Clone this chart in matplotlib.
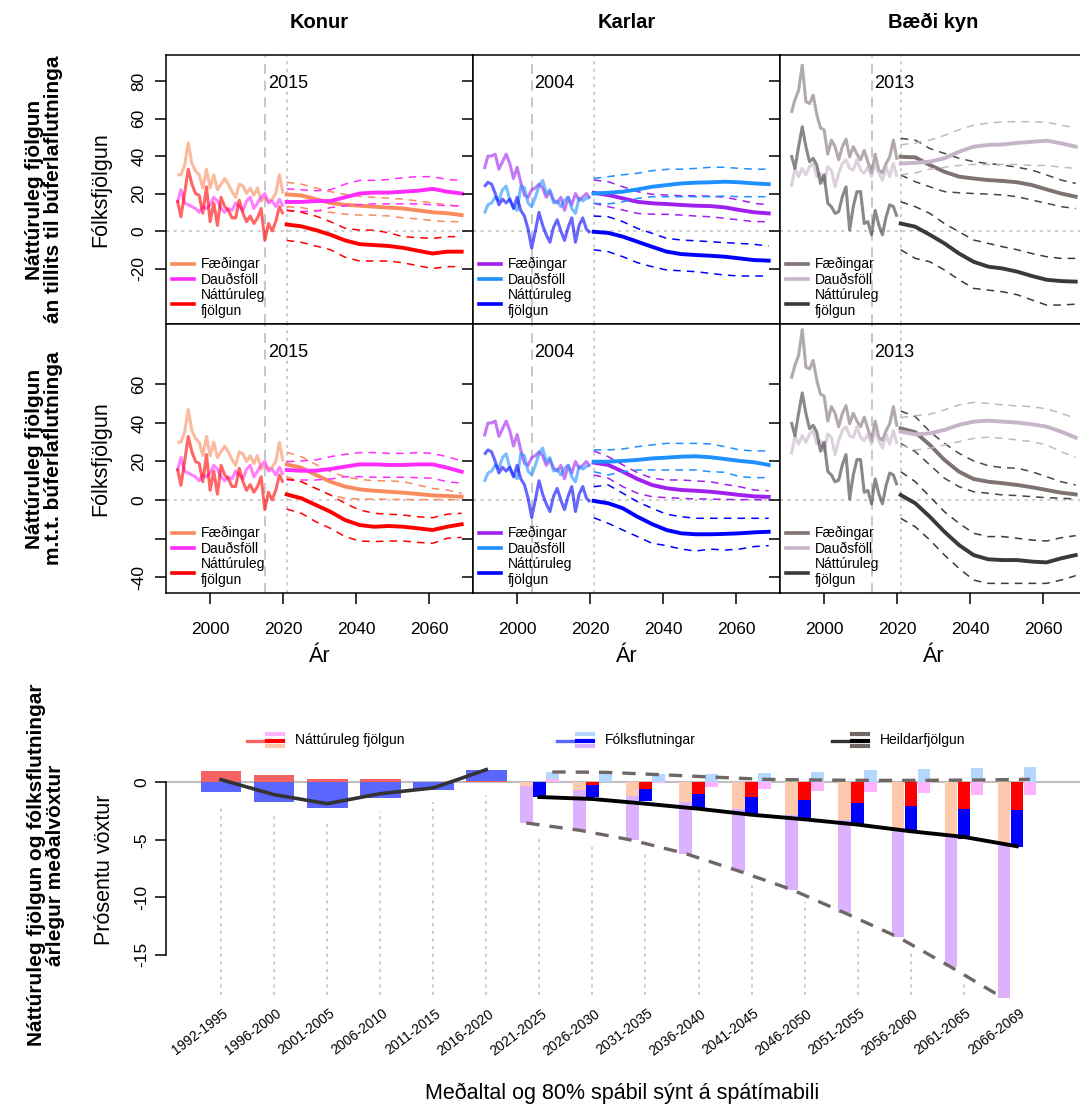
import numpy as np
import matplotlib
matplotlib.use("Agg")
import matplotlib.pyplot as plt
from matplotlib.lines import Line2D

plt.rcParams['font.family'] = ['Liberation Sans', 'DejaVu Sans']

# ------------------------------------------------------------------
# data: yearly history 1991-2020, projections every 4th year 2021-2069
# ------------------------------------------------------------------
hist_years = np.arange(1991, 2021)
proj_years = np.arange(2021, 2070, 4)

konur_births_hist = [30, 30, 35, 47, 36, 32, 30, 23, 33, 23, 30, 22, 25, 28, 25, 21,
                     18, 25, 24, 20, 23, 19, 23, 16, 18, 16, 17, 20, 30, 20]
konur_deaths_hist = [15, 22, 15, 14, 13, 12, 10, 13, 12, 14, 18, 16, 12, 10, 12, 11,
                     15, 13, 11, 16, 18, 12, 15, 18, 20, 15, 16, 13, 17, 13]
konur_nat_hist = [16.5, 7.6, 20, 33, 25, 20, 19, 9.5, 23.6, 5, 15, 3, 18, 13, 11, 7,
                  7, 16.5, 9.5, 5, 8, 4, 7, 12, -5, 4, 0, 5, 13, 9]

karlar_births_hist = [33, 40, 40, 41, 33, 37, 41, 36, 28, 34, 26, 19, 18, 22, 23, 25,
                      23, 18, 21, 16.5, 15, 18, 11, 18, 14, 20, 16.5, 18, 20, 17.5]
karlar_deaths_hist = [9.4, 14, 15, 18, 16.5, 22, 24, 16.5, 13, 11, 24, 23, 15, 13, 18, 24,
                      27, 20, 22, 15, 16, 13, 16.5, 18, 12, 9.4, 17.5, 16, 17.5, 18]
karlar_nat_hist = [23.6, 26, 25, 20, 14, 17, 15, 17, 12, 18, 11, 8, 1, -9, 0, 10,
                   3, -2, -6, 2, 6, 0, -5, 2, 7, -6, 3, 7, 1, -1]

baedi_births_hist = [63, 70, 75, 88.5, 69, 68, 72.5, 62, 55, 54, 41, 48.5, 45, 38, 45, 49,
                     39.6, 45, 41, 38, 43, 37, 31, 41, 32.5, 31, 36, 39.6, 48.5, 38]
baedi_deaths_hist = [23.6, 33.4, 29, 33.4, 30, 34.3, 36, 29, 30.8, 25.4, 34.3, 32.5, 23.6, 30.8, 36, 38,
                     33.4, 32.5, 38, 32.5, 30.8, 34.3, 29, 36, 30.8, 27, 34.3, 29, 36, 29]
baedi_nat_hist = [40.5, 33.4, 45, 55.6, 45, 37, 38.8, 35.2, 25.4, 30, 14.8, 13, 9.4, 10.3, 18.3, 23.6,
                  0.5, 13, 21, 21, 4, 5, -2, 11, 3.2, -2, 7.6, 14, 13, 7.6]

# projections: [mean, lower 10%, upper 90%]
# row 1: an tillits til buferlaflutninga
k1_births = [[19.5, 19, 17, 15, 14, 13.5, 13, 12.5, 12, 11, 10, 9.5, 8.5],
             [13, 12.5, 11, 10, 9, 8.5, 8.5, 8, 7, 6.5, 5.5, 5, 5],
             [26, 25, 23, 21, 19.5, 18.5, 18, 17.5, 17, 16, 15, 14, 13]]
k1_deaths = [[15.5, 15.5, 16, 16, 18, 20, 20.5, 20.5, 21, 21.5, 22.5, 21, 20],
             [11, 10.5, 10.5, 12.5, 13.5, 14, 14.5, 14.5, 14.5, 14.5, 14, 13.5, 13.5],
             [22.5, 22, 21.5, 22, 25, 27, 27, 27.5, 28.5, 29, 29, 27.5, 27]]
k1_nat = [[3.5, 2.5, 0.5, -2, -5, -7, -7.5, -8, -9, -10.5, -12, -11, -11],
          [-5, -6, -8, -10, -14, -16, -16, -16, -17, -18.5, -20, -19, -19],
          [11, 10, 8, 5, 1.5, 0.5, 0.5, -1, -3, -3.5, -4, -3, -3]]

ka1_births = [[20.4, 19.2, 17.4, 15.6, 14.8, 14.4, 13.9, 13.5, 13.3, 12.6, 11.2, 10, 9.4],
              [14.8, 13, 11.2, 9.4, 9, 8.9, 8.5, 8, 7.6, 6.8, 5.9, 5, 5],
              [27.2, 26.3, 23.6, 21, 19.6, 19.2, 18.8, 18.8, 18.6, 18, 16.5, 14.8, 13.9]]
ka1_deaths = [[20, 20.4, 21, 22.2, 23.6, 24.5, 25.4, 25.8, 26, 26.3, 26, 25.4, 25],
              [14.8, 14.4, 15.6, 17.4, 18.3, 18.3, 18.3, 18.3, 18.3, 18.7, 18.3, 18.3, 18.3],
              [28, 29, 30, 30.8, 32.2, 32.9, 33, 33.4, 34, 34, 33.4, 33, 33]]
ka1_nat = [[-0.4, -1, -3, -5.7, -8.4, -11, -12.3, -12.8, -13.2, -13.7, -14.6, -15.5, -15.8],
           [-10, -11, -13.7, -16.9, -19, -20.8, -21.2, -21.7, -22.6, -23.5, -24, -24, -24],
           [8, 7.6, 5, 1.4, -1.2, -3.9, -4.8, -5.2, -5.7, -6.2, -6.6, -7.1, -8]]

b1_births = [[39.6, 39.3, 35.2, 31.6, 29, 28, 27.2, 26.7, 26, 24.5, 22.2, 20, 18.3],
             [29.9, 26.3, 23.6, 21, 20.4, 20, 19.7, 19.2, 18.3, 16.5, 14.8, 13, 12],
             [49.4, 48.5, 44, 41.4, 38.8, 37, 36, 35.2, 34, 32.5, 29.9, 27.2, 25.4]]
b1_deaths = [[36, 36.4, 37, 38.8, 42.3, 45, 45.9, 46.2, 47, 47.6, 48.2, 46.8, 45],
             [30, 31, 33, 34, 35, 35.5, 35.5, 35.5, 35.5, 35, 35, 34, 33.5],
             [46, 47, 48.5, 51, 54, 56.5, 57.5, 58.3, 58.3, 58.3, 58, 56.5, 55]]
b1_nat = [[4, 2.3, -2, -6.6, -12, -16.4, -19, -20, -21.7, -24, -26, -26.7, -27],
          [-10, -14.6, -16.4, -20.8, -26, -30.6, -31.5, -32.4, -34, -36.8, -39.5, -39.5, -39],
          [15.6, 13, 9.4, 4, -0.4, -4.8, -6.6, -8.4, -10, -12, -13.7, -14.6, -14.6]]

# row 2: m.t.t. buferlaflutninga
k2_births = [[18.5, 16.8, 13, 9.5, 7, 5.5, 4.8, 4.3, 3.8, 3.1, 2.4, 2.1, 1.7],
             [12.1, 9.5, 6, 2.6, 0.9, 0.5, 0.5, 0.3, 0.3, 0.2, 0.2, 0.2, 0],
             [24.8, 22.5, 18.5, 14.7, 12.1, 10.7, 10, 9.9, 9.5, 7.8, 6, 5.2, 3.5]]
k2_deaths = [[15.6, 15.2, 15.2, 16.1, 17.3, 18.5, 18.5, 18.2, 18.2, 18.5, 18.5, 16.8, 14.7],
             [10.4, 10.4, 10.4, 10.9, 12.1, 12.1, 11.8, 11.8, 11.8, 11.6, 11.3, 9.5, 8.7],
             [19.9, 20.3, 20.8, 22.5, 23.7, 24.6, 24.6, 24.2, 24.2, 24.6, 24.2, 22.5, 20.3]]
k2_nat = [[2.9, 0.9, -2.6, -6.1, -10.4, -13, -13.9, -13.5, -13.9, -14.7, -15.6, -13.9, -12.6],
          [-4.7, -6.9, -11.3, -14.7, -19, -21.3, -21.6, -21.3, -21.3, -22, -22.5, -19.9, -19.4],
          [10.9, 9.5, 6, 2.6, -1.7, -5.2, -6.9, -7.4, -7.8, -8.7, -9.2, -7.4, -6.9]]

ka2_births = [[19.4, 18.2, 14.7, 10.9, 7.8, 6.1, 5.2, 4.8, 4.3, 3.5, 2.6, 1.9, 1.6],
              [13, 11.3, 6.9, 3.5, 1.7, 1.2, 0.9, 0.5, 0.5, 0.3, 0.2, 0.2, 0],
              [25.5, 22.5, 18.2, 14.2, 11.3, 10.4, 10.4, 9.9, 9.5, 8.1, 6.9, 5.2, 4.8]]
ka2_deaths = [[19.9, 19.9, 20.3, 20.8, 21.6, 22, 22.5, 22.7, 22.2, 21.3, 20.3, 19.6, 18.2],
              [14.7, 13, 14.7, 15.6, 15.6, 15.6, 15.6, 15.6, 14.7, 14.4, 12.1, 11.6, 11.6],
              [26, 26, 26.5, 27.7, 28.6, 29.4, 29.4, 29.4, 29.1, 27.7, 26, 25.5, 25.5]]
ka2_nat = [[-0.5, -1.7, -4.3, -8.7, -12.5, -15.6, -17.3, -17.8, -17.8, -17.6, -17.3, -16.8, -16.5],
           [-9.2, -12.1, -15.6, -19, -22.5, -23.7, -25.5, -26.5, -25.5, -26, -25.5, -24.2, -23.7],
           [6.9, 7.8, 3.5, -0.9, -4.3, -7.4, -8.7, -9.5, -9.5, -9.5, -9.5, -9.5, -9.5]]

b2_births = [[37.2, 35.2, 28.6, 20.8, 14.7, 10.9, 9.5, 8.7, 7.8, 6.6, 5.2, 3.8, 2.9],
             [29.4, 25.1, 18.2, 11.3, 6.9, 4.3, 3.5, 2.6, 2.3, 1.7, 1.2, 0.9, 0.5],
             [46.2, 43.3, 35.5, 29.4, 24.2, 20.3, 17.8, 16.8, 16.5, 14.7, 12.1, 9.5, 7.8]]
b2_deaths = [[35.5, 34.1, 34.6, 36.4, 39, 40.7, 41.2, 40.7, 40.2, 39.3, 38.1, 35.5, 32.4],
             [28.6, 26, 26.8, 28.6, 30.3, 32, 32.6, 32, 31.2, 30.3, 28.6, 25.1, 22],
             [42.8, 43.8, 44.5, 46.8, 49.4, 50.7, 50.2, 49.4, 48.8, 48.5, 47.3, 45, 42.4]]
b2_nat = [[2.6, -1.7, -8.7, -16.5, -23.4, -28.6, -30.8, -31.2, -31.2, -32, -32.4, -30.3, -28.6],
          [-9.5, -13.9, -20.8, -28.6, -35.5, -41.6, -43.3, -43.3, -43.3, -43.3, -43.3, -41.6, -39.3],
          [14.7, 9.5, 1.7, -6.1, -12.1, -17.3, -19, -19, -19.9, -20.8, -21.3, -19.6, -18.5]]

columns = ['Konur', 'Karlar', 'Bæði kyn']
ref_years = [2015, 2004, 2013]
legend_labels = ['Fæðingar', 'Dauðsföll', 'Náttúruleg\nfjölgun']

# bottom chart: average annual growth (%) by period
periods = ['1992-1995', '1996-2000', '2001-2005', '2006-2010', '2011-2015', '2016-2020',
           '2021-2025', '2026-2030', '2031-2035', '2036-2040', '2041-2045', '2046-2050',
           '2051-2055', '2056-2060', '2061-2065', '2066-2069']
nat_hist = [0.96, 0.67, 0.26, 0.32, 0.06, 0.1]
mig_hist = [-0.84, -1.71, -2.2, -1.36, -0.64, 0.95]
total_hist = [0.23, -1.07, -1.86, -0.99, -0.49, 1.1]

nat_lo = [-0.35, -0.7, -1.22, -1.71, -2.29, -2.81, -3.3, -4.03, -4.7, -5.19]
mig_lo = [-3.19, -3.47, -3.82, -4.49, -5.42, -6.52, -8.06, -9.42, -11.36, -13.61]
nat_mean = [0.0, -0.23, -0.6, -0.99, -1.28, -1.57, -1.77, -2.06, -2.29, -2.38]
mig_mean = [-1.28, -1.05, -1.05, -1.3, -1.53, -1.68, -1.97, -2.26, -2.61, -3.24]
nat_hi = [0.26, 0.05, -0.05, -0.38, -0.61, -0.76, -0.81, -0.96, -1.1, -1.1]
mig_hi = [0.66, 0.85, 0.72, 0.72, 0.84, 0.92, 1.07, 1.13, 1.27, 1.36]
total_mean = [-1.28, -1.45, -1.86, -2.3, -2.82, -3.22, -3.68, -4.26, -4.75, -5.56]
total_lo = [-3.54, -4.17, -5.04, -6.2, -7.71, -9.33, -11.36, -13.45, -16.06, -18.8]
total_hi = [0.9, 0.87, 0.67, 0.46, 0.26, 0.2, 0.17, 0.17, 0.2, 0.26]

# ------------------------------------------------------------------
# styles
# ------------------------------------------------------------------
col_colors = [['#F98B5E', '#FF2BFF', '#FF0000'],
              ['#A020F0', '#1E90FF', '#0000FF'],
              ['#7F7270', '#C6B4C8', '#3A3A3A']]
dash_colors = [['#F98B5E', '#FF2BFF', '#FF0000'],
               ['#A020F0', '#1E90FF', '#0000FF'],
               ['#4D4545', '#C6B4C8', '#3A3A3A']]
GREY = '#BEBEBE'

W, H = 1080.0, 1108.0
fig = plt.figure(figsize=(10.8, 11.08), dpi=100)


def px_axes(x0, y0, x1, y1):
    return fig.add_axes([x0 / W, 1 - y1 / H, (x1 - x0) / W, (y1 - y0) / H])


def draw_panel(ax, hist, proj, colors, dcolors, ref_year):
    ax.axhline(0, color=GREY, lw=1.1, ls=(0, (2, 3)), zorder=0)
    ax.axvline(ref_year, color=GREY, lw=1.2, ls=(0, (6, 4)), zorder=0)
    ax.axvline(2021, color=GREY, lw=1.1, ls=(0, (2, 3)), zorder=0)
    for vals, c in zip(hist, colors):
        ax.plot(hist_years, vals, color=c, lw=2.2, alpha=0.6, solid_capstyle='butt')
    for (mean, lo, hi), c, dc in zip(proj, colors, dcolors):
        ax.plot(proj_years, lo, color=dc, lw=1.1, ls=(0, (5, 4)))
        ax.plot(proj_years, hi, color=dc, lw=1.1, ls=(0, (5, 4)))
        ax.plot(proj_years, mean, color=c, lw=2.8)
    handles = [Line2D([], [], color=c, lw=2.6) for c in colors]
    ax.legend(handles, legend_labels, loc='lower left', frameon=False, fontsize=10,
              handlelength=1.6, handletextpad=0.5, labelspacing=0.1,
              borderaxespad=0.2, borderpad=0.2)
    ax.text(ref_year + 0.8, 0.895, str(ref_year), transform=ax.get_xaxis_transform(),
            fontsize=13, ha='left', va='center')


hists = [[konur_births_hist, konur_deaths_hist, konur_nat_hist],
         [karlar_births_hist, karlar_deaths_hist, karlar_nat_hist],
         [baedi_births_hist, baedi_deaths_hist, baedi_nat_hist]]
projs = [[[k1_births, k1_deaths, k1_nat], [ka1_births, ka1_deaths, ka1_nat], [b1_births, b1_deaths, b1_nat]],
         [[k2_births, k2_deaths, k2_nat], [ka2_births, ka2_deaths, ka2_nat], [b2_births, b2_deaths, b2_nat]]]

col_x = [166, 473, 780]
row_y = [(55, 324), (324, 593)]
row_ylim = [(-49.6, 93.9), (-48.3, 91.4)]
row_ticks = [[-20, 0, 20, 40, 60, 80], [-40, -20, 0, 20, 40, 60]]
row_ticklabels = [['-20', '0', '20', '40', '60', '80'], ['-40', '', '0', '20', '40', '60']]
row_titles = ['Náttúruleg fjölgun\nán tillits til búferlaflutninga',
              'Náttúruleg fjölgun\nm.t.t. búferlaflutninga']

for r in range(2):
    for c in range(3):
        ax = px_axes(col_x[c], row_y[r][0], col_x[c] + 307, row_y[r][1])
        draw_panel(ax, hists[c], projs[r][c], col_colors[c], dash_colors[c], ref_years[c])
        ax.set_xlim(1987.9, 2072.1)
        ax.set_ylim(*row_ylim[r])
        ax.set_xticks([2000, 2020, 2040, 2060])
        ax.set_yticks(row_ticks[r])
        ax.tick_params(direction='out', length=8, width=1.1, labelsize=12.5)
        ax.tick_params(axis='y', pad=6)
        ax.tick_params(axis='x', pad=13)
        for s in ax.spines.values():
            s.set_linewidth(1.1)
        if c == 0:
            ax.set_yticklabels(row_ticklabels[r], rotation=90, va='center')
        else:
            ax.set_yticklabels([])
        if r == 0:
            ax.set_xticklabels([])
        else:
            fig.text((col_x[c] + 153.5) / W, 1 - 657 / H, 'Ár', fontsize=15.5,
                     ha='center', va='center')
    yc = (row_y[r][0] + row_y[r][1]) / 2
    fig.text(101 / W, 1 - yc / H, 'Fólksfjölgun', rotation=90, fontsize=15.5,
             ha='center', va='center')
    fig.text(44 / W, 1 - yc / H, row_titles[r], rotation=90, fontsize=15,
             fontweight='bold', ha='center', va='center', linespacing=1.05,
             multialignment='center')

for c in range(3):
    fig.text((col_x[c] + 153.5) / W, 1 - 22 / H, columns[c], fontsize=14.5,
             fontweight='bold', ha='center', va='center')

# ------------------------------------------------------------------
# bottom chart
# ------------------------------------------------------------------
ax3 = px_axes(166, 730, 1080, 1005)
ax3.set_xlim(-1.036, 16.19)
ax3.set_ylim(-19.37, 4.55)
ax3.axhline(0, color=GREY, lw=1.5, zorder=0)


def stacked(ax, x, parts, colors, width):
    up, down = 0.0, 0.0
    for v, col in zip(parts, colors):
        if v >= 0:
            ax.bar(x, v, width, bottom=up, color=col, linewidth=0, zorder=2)
            up += v
        else:
            ax.bar(x, v, width, bottom=down, color=col, linewidth=0, zorder=2)
            down += v
    return down


n_hist = len(nat_hist)
bottoms = []
for i in range(n_hist):
    bottoms.append(stacked(ax3, i, [nat_hist[i], mig_hist[i]], ['#F46262', '#5B66FF'], 0.77))

off, bw = 0.245, 0.235
for j in range(len(nat_mean)):
    x = n_hist + j
    b1 = stacked(ax3, x - off, [nat_lo[j], mig_lo[j]], ['#FFC9AD', '#DCB2FF'], bw)
    b2 = stacked(ax3, x, [nat_mean[j], mig_mean[j]], ['#FF0000', '#0000FF'], bw)
    b3 = stacked(ax3, x + off, [nat_hi[j], mig_hi[j]], ['#FFB3FF', '#B3D7FF'], bw)
    bottoms.append(min(b1, b2, b3))

for i, b in enumerate(bottoms):
    top = min(0.0, b) - 1.1
    if top > -18.5:
        ax3.vlines(i, -18.5, top, color=GREY, lw=1.1, ls=(0, (2, 3)), zorder=1)

px = np.arange(n_hist, len(periods))
ax3.plot(np.arange(n_hist), total_hist, color='#333333', lw=2.6, zorder=3)
ax3.plot(px, total_mean, color='black', lw=2.8, zorder=3)
ax3.plot(px - off, total_lo, color='#6F6764', lw=2.4, ls=(0, (4, 3)), zorder=3)
ax3.plot(px + off, total_hi, color='#6F6764', lw=2.4, ls=(0, (4, 3)), zorder=3)

for s in ['top', 'right', 'bottom']:
    ax3.spines[s].set_visible(False)
ax3.spines['left'].set_bounds(-15, 0)
ax3.spines['left'].set_linewidth(1.1)
ax3.set_yticks([0, -5, -10, -15])
ax3.set_yticklabels(['0', '-5', '-10', '-15'], rotation=90, va='center')
ax3.tick_params(axis='y', direction='out', length=8, width=1.1, labelsize=12.5, pad=4)
ax3.set_xticks([])
for i, lab in enumerate(periods):
    ax3.text(i + 0.03, -19.5, lab, rotation=37, rotation_mode='anchor',
             ha='right', va='top', fontsize=10)

# legend row drawn in axes fraction
leg_items = [('Náttúruleg fjölgun', '#F46262', ['#FFB3FF', '#FF0000', '#FFC9AD'], 0.0886),
             ('Fólksflutningar', '#5B66FF', ['#B3D7FF', '#0000FF', '#DCB2FF'], 0.4278),
             ('Heildarfjölgun', '#333333', ['#6F6764', '#000000', '#6F6764'], 0.7287)]
tr = ax3.transAxes
for text, c_hist, c_stack, x0 in leg_items:
    ax3.plot([x0, x0 + 0.0175], [0.9611, 0.9611], color=c_hist, lw=2.4,
             transform=tr, clip_on=False)
    for yy, cc in zip([0.9844, 0.9611, 0.9429], c_stack):
        ax3.plot([x0 + 0.0219, x0 + 0.0394], [yy, yy], color=cc, lw=3,
                 transform=tr, clip_on=False)
    ax3.text(x0 + 0.0525, 0.9636, text, transform=tr, fontsize=10, ha='left', va='center')

fig.text(105 / W, 1 - 870 / H, 'Prósentu vöxtur', rotation=90, fontsize=15.5,
         ha='center', va='center')
fig.text(46 / W, 1 - 865 / H, 'Náttúruleg fjölgun og fólksflutningar\nárlegur meðalvöxtur',
         rotation=90, fontsize=15, fontweight='bold', ha='center', va='center',
         linespacing=1.05, multialignment='center')
fig.text(622 / W, 1 - 1093 / H, 'Meðaltal og 80% spábil sýnt á spátímabili',
         fontsize=15.5, ha='center', va='center')

fig.savefig('out.png', dpi=100)
